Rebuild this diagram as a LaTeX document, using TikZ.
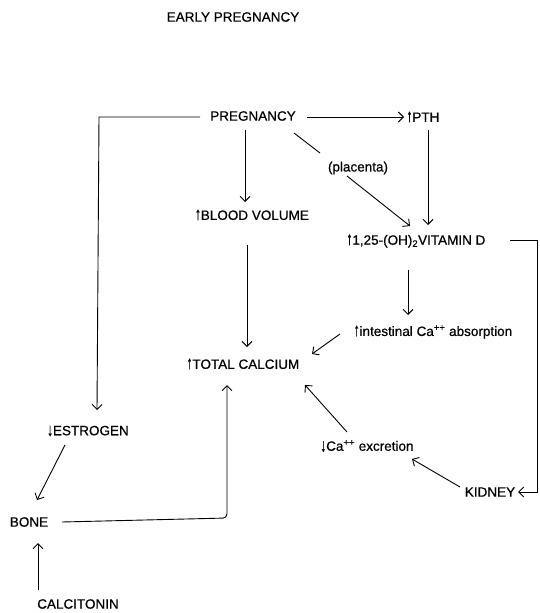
\documentclass[tikz,border=0pt]{standalone}
\usepackage{fontspec}
\setmainfont{Liberation Sans}[FakeBold=0.5]
\newfontfamily\lbfont{Liberation Sans}[FakeBold=0.6]
\newcommand\upa{\scalebox{0.85}[1.35]{↑}}
\newcommand\dna{\raisebox{-0.6pt}{\scalebox{0.85}[1.35]{↓}}}
\usetikzlibrary{arrows.meta}
\begin{document}
\begin{tikzpicture}[x=1pt,y=-1pt,
  lbl/.style={inner sep=0pt,font=\lbfont\fontsize{13.5}{15}\selectfont},
  conn/.style={line width=0.9pt,-{Straight Barb[length=5pt,width=10pt]}},
  plain/.style={line width=0.9pt}]
\useasboundingbox (0,0) rectangle (539,613);
% nodes
\node[lbl] (title) at (233,17) {EARLY PREGNANCY};
\node[lbl] (preg) at (253,116) {PREGNANCY};
\node[lbl] (pth) at (423,117) {\upa PTH};
\node[lbl] (blood) at (252,215) {\upa BLOOD VOLUME};
\node[lbl] (plac) at (358,168) {(placenta)};
\node[lbl] (vitd) at (416,241) {\upa 1,25-(OH)\textsubscript{2}VITAMIN D};
\node[lbl] (int) at (433,332) {\upa intestinal Ca\textsuperscript{++} absorption};
\node[lbl] (total) at (243,364) {\upa TOTAL CALCIUM};
\node[lbl] (exc) at (367,446) {\dna Ca\textsuperscript{++} excretion};
\node[lbl] (kid) at (490,492) {KIDNEY};
\node[lbl] (est) at (88,431) {\dna ESTROGEN};
\node[lbl] (bone) at (29,522) {BONE};
\node[lbl] (calc) at (78,604) {CALCITONIN};
% helper coordinates
\coordinate (p1) at (307,117);
\coordinate (p2) at (404,117);
\coordinate (p3) at (200,117);
\coordinate (p4) at (99,117);
\coordinate (p5) at (97,410);
\coordinate (p6) at (245,130);
\coordinate (p7) at (245,202);
\coordinate (p8) at (294,133);
\coordinate (p9) at (320,153);
\coordinate (p10) at (347,176);
\coordinate (p11) at (410,226);
\coordinate (p12) at (428,130);
\coordinate (p13) at (428,225);
\coordinate (p14) at (510,240);
\coordinate (p15) at (537,240);
\coordinate (p16) at (537,492);
\coordinate (p17) at (518,492);
\coordinate (p18) at (408,270);
\coordinate (p19) at (408,315);
\coordinate (p20) at (340,334);
\coordinate (p21) at (312,354);
\coordinate (p22) at (247,245);
\coordinate (p23) at (247,347);
\coordinate (p24) at (347,432);
\coordinate (p25) at (305,385);
\coordinate (p26) at (460,487);
\coordinate (p27) at (412,459);
\coordinate (p28) at (65,445);
\coordinate (p29) at (37,500);
\coordinate (p30) at (62,522);
\coordinate (p31) at (227,518);
\coordinate (p32) at (227,385);
\coordinate (p33) at (38,590);
\coordinate (p34) at (38,543);
% connectors
\draw[conn] (p1) -- (p2);
\draw[conn] (p3) -- (p4) -- (p5);
\draw[conn] (p6) -- (p7);
\draw[plain] (p8) -- (p9);
\draw[conn] (p10) -- (p11);
\draw[conn] (p12) -- (p13);
\draw[conn] (p14) -- (p15) -- (p16) -- (p17);
\draw[conn] (p18) -- (p19);
\draw[conn] (p20) -- (p21);
\draw[conn] (p22) -- (p23);
\draw[conn] (p24) -- (p25);
\draw[conn] (p26) -- (p27);
\draw[conn] (p28) -- (p29);
\draw[conn,rounded corners=4pt] (p30) -- (p31) -- (p32);
\draw[conn] (p33) -- (p34);
\end{tikzpicture}
\end{document}
